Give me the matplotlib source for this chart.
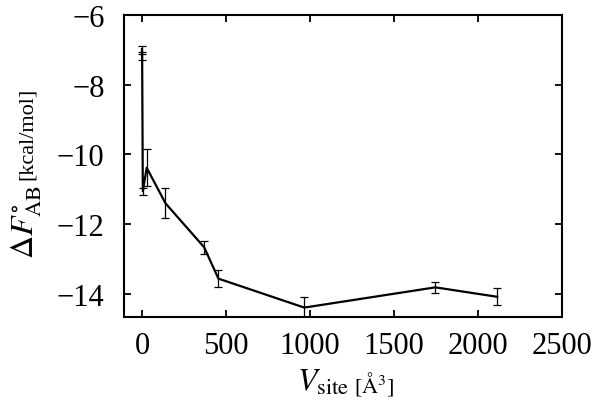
import numpy as np
import matplotlib
matplotlib.use("Agg")
import matplotlib.pyplot as plt

# binding free energy vs site volume
v_site = [0, 1, 5, 28, 140, 370, 455, 966, 1746, 2114]
dF = [-6.98, -7.2, -11.05, -10.38, -11.4, -12.66, -13.56, -14.39, -13.81, -14.08]
dF_err = [0.09, 0.09, 0.1, 0.53, 0.43, 0.19, 0.24, 0.29, 0.15, 0.24]

xticks = [0, 500, 1000, 1500, 2000, 2500]
yticks = [-14, -12, -10, -8, -6]

plt.rcParams['font.family'] = ['Liberation Serif', 'DejaVu Serif']
plt.rcParams['mathtext.fontset'] = 'stix'

fig = plt.figure(figsize=(6, 4.14), dpi=100)
ax = fig.add_axes([124/600, 1-318/414, (562-124)/600, (318-16)/414])

ax.errorbar(v_site, dF, yerr=dF_err, color='black', lw=1.6,
            elinewidth=0.9, capsize=3, capthick=0.9, zorder=3)

ax.set_xlim(-107, 2500)
ax.set_ylim(-14.66, -6)
ax.set_xticks(xticks)
ax.set_yticks(yticks)
ax.set_yticklabels(['\u2212' + str(abs(t)) for t in yticks])

for s in ax.spines.values():
    s.set_linewidth(1.5)
ax.tick_params(direction='in', length=5, width=1.3, labelsize=22,
               top=True, right=True)
ax.tick_params(axis='x', pad=10)
ax.tick_params(axis='y', pad=14)

# axis labels with smaller unit text
fig.text(297/600, 1-391/414, r'$V_{\mathrm{site}}$', fontsize=23,
         ha='left', va='baseline')
fig.text(354/600, 1-393/414, r'[$\mathrm{\AA}^3$]', fontsize=16,
         ha='left', va='baseline')
fig.text(34/600, 1-259/414, r'$\Delta F^{\circ}_{\mathrm{AB}}$', fontsize=23,
         rotation=90, rotation_mode='anchor', ha='left', va='baseline')
fig.text(32/600, 1-180/414, '[kcal/mol]', fontsize=16,
         rotation=90, rotation_mode='anchor', ha='left', va='baseline')

fig.savefig('out.png', dpi=100)
